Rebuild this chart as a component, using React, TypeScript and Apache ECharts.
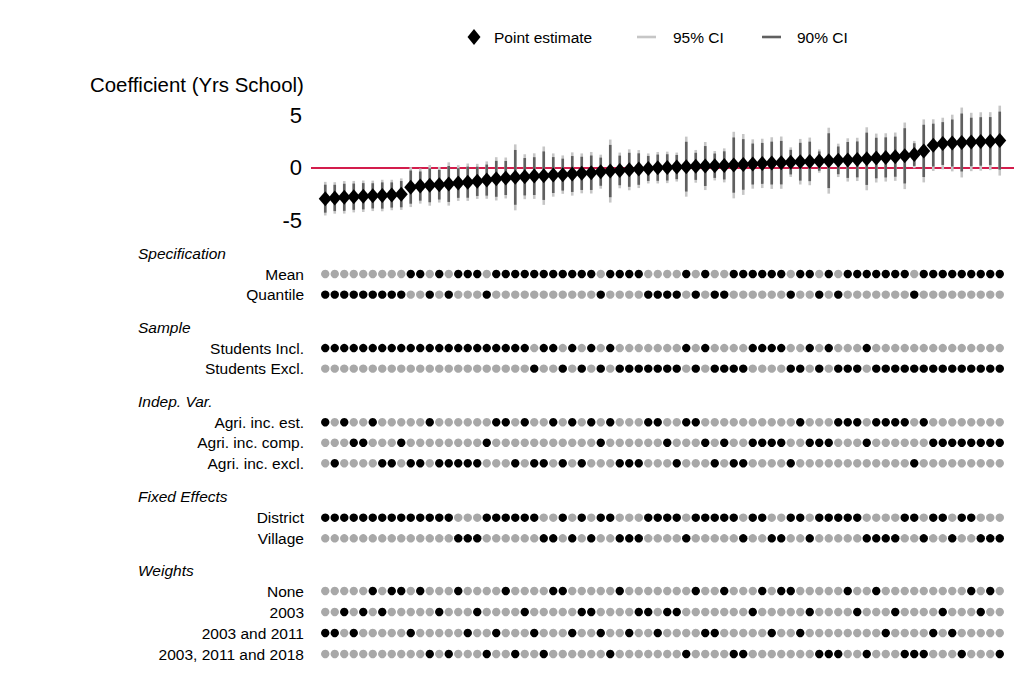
import React, { useEffect, useRef } from "react";
import * as echarts from "echarts";

// ---------- DATA ----------
const estimates = [
  -2.95, -2.88, -2.82, -2.76, -2.72, -2.68, -2.65, -2.6, -2.52,
  -1.85, -1.75, -1.68, -1.62, -1.55, -1.46, -1.38, -1.3, -1.18,
  -1.06, -0.98, -0.92, -0.86, -0.8, -0.76, -0.7, -0.66, -0.6, -0.54, -0.48, -0.38, -0.32, -0.26, -0.2, -0.13, -0.07, 0.0,
  0.03, 0.06, 0.1, 0.13, 0.16, 0.19, 0.22, 0.25, 0.31, 0.35, 0.41, 0.44, 0.48, 0.53, 0.57, 0.6, 0.63, 0.67,
  0.7, 0.74, 0.79, 0.85, 0.92, 0.98, 1.05, 1.13, 1.25, 1.6, 2.15, 2.3, 2.35, 2.4, 2.45, 2.5, 2.53, 2.58,
];
const ci95Half = [
  1.6, 1.5, 1.55, 1.5, 1.5, 1.45, 1.5, 1.45, 1.5, 1.9, 1.67, 1.94, 1.7, 2.06, 1.7, 1.78, 1.67, 1.78,
  2.06, 1.95, 3.14, 2.14, 2.17, 2.78, 2.06, 1.83, 2.06, 1.9, 1.98, 1.62, 3.0, 1.7, 1.95, 1.81, 1.43, 1.5,
  1.5, 1.38, 2.86, 1.56, 2.29, 1.4, 1.62, 3.17, 2.9, 2.35, 2.35, 2.46, 2.49, 1.41, 2.17, 2.27, 1.11, 3.14,
  1.59, 2.06, 2.06, 3.0, 2.33, 2.3, 2.3, 3.17, 1.3, 3.0, 2.46, 2.46, 2.7, 3.33, 2.78, 2.78, 2.76, 3.33,
];
const ci90Half = [
  1.33, 1.25, 1.29, 1.25, 1.25, 1.2, 1.25, 1.2, 1.25, 1.58, 1.39, 1.61, 1.41, 1.71, 1.41, 1.48, 1.39, 1.48,
  1.71, 1.62, 2.61, 1.78, 1.8, 2.31, 1.71, 1.52, 1.71, 1.58, 1.64, 1.34, 2.49, 1.41, 1.62, 1.5, 1.19, 1.25,
  1.25, 1.15, 2.37, 1.29, 1.9, 1.16, 1.34, 2.63, 2.41, 1.95, 1.95, 2.04, 2.07, 1.17, 1.8, 1.88, 0.92, 2.61,
  1.32, 1.71, 1.71, 2.49, 1.93, 1.91, 1.91, 2.63, 1.08, 2.49, 2.04, 2.04, 2.24, 2.76, 2.31, 2.31, 2.29, 2.76,
];

// Specification choices per estimate (same order as estimates)
const specification = ("QQQQQQQQQ" + "MMQMQMMMQ" + "MMMMMMMMMMM" + "QMMMMQQ" +
  "QQMQMQQMMMMMMQMMQM" + "QMMMMMMMQMMMMMMMMM").split("");
const sample = ("IIIIIIIIIIIIIIIIIIIIII" + "EIIEIEIEIEEEEE" +
  "EEIEIEEEEIIIIEEIEI" + "EEEIEEEEEEEEEEEEEE").split("");
const indepVar = ("sxsccsxxcxxsxxxxxc" + "ssxsxxsxsxscsxxxss" +
  "cxsscxcxxccccxsccc" + "ssscssssxscccccccc").split("");
const fixedEffects = ("DDDDDDDDDDDDDDVVVD" + "DDDDDVVDVDVDDVVVDD" +
  "DDVDDDDDVDDVVDDVDD" + "DDDVVVVDDVDDVDDVVV").split("");
const weights = ("BBABANANNBNCACNBAC" + "BNCABCNNBAABCNBAAB" +
  "AACNBBNCCANBNNBACC" + "CNACNBACCCBABCNANC").split("");

const groupTitles = ["Specification", "Sample", "Indep. Var.", "Fixed Effects", "Weights"];
const groupRowLabels = [
  ["Mean", "Quantile"],
  ["Students Incl.", "Students Excl."],
  ["Agri. inc. est.", "Agri. inc. comp.", "Agri. inc. excl."],
  ["District", "Village"],
  ["None", "2003", "2003 and 2011", "2003, 2011 and 2018"],
];
const groupRowCodes = [
  ["M", "Q"],
  ["I", "E"],
  ["s", "c", "x"],
  ["D", "V"],
  ["N", "A", "B", "C"],
];
const groupChoices = [specification, sample, indepVar, fixedEffects, weights];

const yTicks = [-5, 0, 5];
const legendLabels = ["Point estimate", "95% CI", "90% CI"];

// ---------- LAYOUT ----------
const FONT = '"Liberation Sans", Arial, Helvetica, sans-serif';
const GRID_LEFT = 311;
const GRID_WIDTH = 703;
const X_MIN = -1.5;
const X_MAX = 72.5;
const groupLayout = [
  { top: 263.7, height: 41.2 },
  { top: 337.7, height: 41.3 },
  { top: 412, height: 61.5 },
  { top: 507.4, height: 41.2 },
  { top: 580.5, height: 84 },
];
const COLOR_95 = "#c6c6c6";
const COLOR_90 = "#606060";
const COLOR_ON = "#000000";
const COLOR_OFF = "#a8a8a8";
const SMALL = 15.5;

export default function App() {
  const ref = useRef<HTMLDivElement>(null);

  useEffect(() => {
    if (!ref.current) return;
    const chart = echarts.init(ref.current, null, { renderer: "svg" });

    const grids: any[] = [
      { left: GRID_LEFT, width: GRID_WIDTH, top: 104.7, height: 115.5 },
    ];
    const xAxes: any[] = [
      { type: "value", gridIndex: 0, min: X_MIN, max: X_MAX, show: false },
    ];
    const yAxes: any[] = [
      {
        type: "value",
        gridIndex: 0,
        min: -5,
        max: 6,
        interval: 5,
        axisLine: { show: false },
        axisTick: { show: false },
        splitLine: { show: false },
        axisLabel: {
          showMaxLabel: false,
          margin: 9,
          fontSize: 22,
          color: "#000",
          fontFamily: FONT,
          formatter: (v: number) => (yTicks.includes(v) ? String(v) : ""),
        },
      },
    ];

    const lineItem = (color: string) => (params: any, api: any) => {
      const k = api.value(0);
      const p1 = api.coord([k, api.value(1)]);
      const p2 = api.coord([k, api.value(2)]);
      return {
        type: "line",
        shape: { x1: p1[0], y1: p1[1], x2: p2[0], y2: p2[1] },
        style: { stroke: color, lineWidth: 2.6 },
      };
    };

    const series: any[] = [
      {
        name: "95% CI",
        type: "custom",
        xAxisIndex: 0,
        yAxisIndex: 0,
        z: 2,
        renderItem: lineItem(COLOR_95),
        encode: { x: 0, y: [1, 2] },
        data: estimates.map((e, i) => [i, e - ci95Half[i], e + ci95Half[i]]),
        markLine: {
          silent: true,
          symbol: "none",
          label: { show: false },
          lineStyle: { color: "#d31d4c", width: 2, type: "solid", opacity: 1 },
          data: [{ yAxis: 0 }],
          z: 1,
        },
      },
      {
        name: "90% CI",
        type: "custom",
        xAxisIndex: 0,
        yAxisIndex: 0,
        z: 3,
        renderItem: lineItem(COLOR_90),
        encode: { x: 0, y: [1, 2] },
        data: estimates.map((e, i) => [i, e - ci90Half[i], e + ci90Half[i]]),
      },
      {
        name: "Point estimate",
        type: "scatter",
        xAxisIndex: 0,
        yAxisIndex: 0,
        z: 4,
        symbol: "diamond",
        symbolSize: [13, 15],
        itemStyle: { color: "#000", opacity: 1 },
        data: estimates.map((e, i) => [i, e]),
      },
    ];

    const graphics: any[] = [];

    groupLayout.forEach((g, gi) => {
      const idx = gi + 1;
      grids.push({ left: GRID_LEFT, width: GRID_WIDTH, top: g.top, height: g.height });
      xAxes.push({ type: "value", gridIndex: idx, min: X_MIN, max: X_MAX, show: false });
      yAxes.push({
        type: "category",
        gridIndex: idx,
        inverse: true,
        data: groupRowLabels[gi],
        axisLine: { show: false },
        axisTick: { show: false },
        splitLine: { show: false },
        axisLabel: { interval: 0, hideOverlap: false, margin: 7, fontSize: SMALL, color: "#000", fontFamily: FONT },
      });
      const choices = groupChoices[gi];
      const codes = groupRowCodes[gi];
      const data: any[] = [];
      codes.forEach((code, r) => {
        choices.forEach((c, k) => {
          data.push({
            value: [k, r],
            itemStyle: { color: c === code ? COLOR_ON : COLOR_OFF, opacity: 1 },
          });
        });
      });
      series.push({
        type: "scatter",
        xAxisIndex: idx,
        yAxisIndex: idx,
        symbol: "circle",
        symbolSize: 8.4,
        itemStyle: { opacity: 1 },
        data,
      });
      graphics.push({
        type: "text",
        x: 138,
        y: g.top - 10.5,
        style: {
          text: groupTitles[gi],
          font: `italic ${SMALL}px ${FONT}`,
          fill: "#000",
          verticalAlign: "middle",
          align: "left",
        },
      });
    });

    // title of coefficient panel
    graphics.push({
      type: "text",
      x: 90,
      y: 85,
      style: {
        text: "Coefficient (Yrs School)",
        font: `20.4px ${FONT}`,
        fill: "#000",
        verticalAlign: "middle",
        align: "left",
      },
    });

    // legend
    const LY = 37;
    graphics.push({
      type: "polygon",
      shape: { points: [[467.5, LY], [474, LY - 8], [480.5, LY], [474, LY + 8]] },
      style: { fill: "#000" },
    });
    graphics.push({
      type: "text",
      x: 494,
      y: LY,
      style: { text: legendLabels[0], font: `${SMALL}px ${FONT}`, fill: "#000", verticalAlign: "middle", align: "left" },
    });
    graphics.push({
      type: "line",
      shape: { x1: 637, y1: LY, x2: 656, y2: LY },
      style: { stroke: COLOR_95, lineWidth: 2.6 },
    });
    graphics.push({
      type: "text",
      x: 673,
      y: LY,
      style: { text: legendLabels[1], font: `${SMALL}px ${FONT}`, fill: "#000", verticalAlign: "middle", align: "left" },
    });
    graphics.push({
      type: "line",
      shape: { x1: 762, y1: LY, x2: 781, y2: LY },
      style: { stroke: COLOR_90, lineWidth: 2.6 },
    });
    graphics.push({
      type: "text",
      x: 797,
      y: LY,
      style: { text: legendLabels[2], font: `${SMALL}px ${FONT}`, fill: "#000", verticalAlign: "middle", align: "left" },
    });

    chart.setOption({
      animation: false,
      backgroundColor: "#fff",
      textStyle: { fontFamily: FONT },
      grid: grids,
      xAxis: xAxes,
      yAxis: yAxes,
      series,
      graphic: graphics,
    });

    return () => chart.dispose();
  }, []);

  return (
    <div
      ref={ref}
      style={{ position: "absolute", left: 0, top: 0, width: 1033, height: 679, background: "#fff" }}
    />
  );
}
